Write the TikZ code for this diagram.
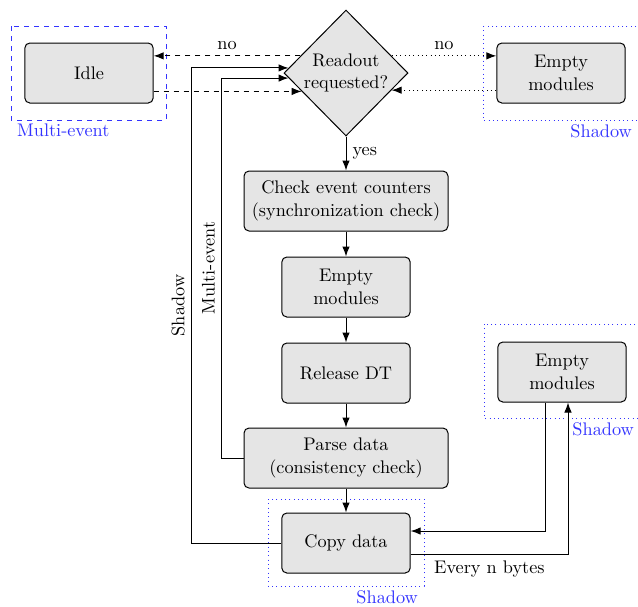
\documentclass[11pt,tikz,border=0pt]{standalone}
\usetikzlibrary{shapes.geometric,arrows.meta,calc}
\tikzset{
	stepbox/.style={draw, rounded corners=3pt, fill=gray!20, align=center, minimum height=36pt},
	narrowbox/.style={stepbox, minimum width=77pt},
	widebox/.style={stepbox, minimum width=122.4pt},
	decision/.style={draw, diamond, aspect=1, fill=gray!20, align=center, inner sep=0pt, minimum width=74.4pt, minimum height=75.6pt},
	groupname/.style={text=blue!80, inner sep=2.2pt},
	multiframe/.style={draw=blue!80, dashed},
	shadowframe/.style={draw=blue!80, dotted},
}
\begin{document}
\begin{tikzpicture}[x=0.6pt, y=-0.6pt, >={Latex[length=6pt,width=4.5pt]}, semithick]
	\useasboundingbox (0,0) rectangle (638,606);
	% steps
	\node[narrowbox] (idle) at (89,73) {Idle};
	\node[decision] (ask) at (346,73) {Readout\\requested?};
	\node[narrowbox] (emptytop) at (561,73) {Empty\\modules};
	\node[widebox] (counters) at (346,201) {Check event counters\\(synchronization check)};
	\node[narrowbox] (emptymid) at (346,287) {Empty\\modules};
	\node[narrowbox] (release) at (346,373) {Release DT};
	\node[widebox] (parse) at (346,458) {Parse data\\(consistency check)};
	\node[narrowbox] (copy) at (346,543) {Copy data};
	\node[narrowbox] (emptyside) at (562,372) {Empty\\modules};
	% frames
	\draw[multiframe] (11,26) rectangle (166,120);
	\node[groupname, anchor=north west] (multiname) at (13,120) {Multi-event};
	\draw[shadowframe] (483,26) rectangle (641,120);
	\node[groupname, anchor=north east] (shadowtopname) at (636,120) {Shadow};
	\draw[shadowframe] (484,324) rectangle (641,418);
	\node[groupname, anchor=north east] (shadowsidename) at (638,418) {Shadow};
	\draw[shadowframe] (268,499) rectangle (424,586);
	\node[groupname, anchor=north east] (shadowcopyname) at (422,586) {Shadow};
	% points on the diamond
	\coordinate (askNW) at ($(ask.west)!0.27!(ask.north)$);
	\coordinate (askSW) at ($(ask.west)!0.29!(ask.south)$);
	\coordinate (askNE) at ($(ask.east)!0.27!(ask.north)$);
	\coordinate (askSE) at ($(ask.east)!0.27!(ask.south)$);
	\coordinate (askL1) at ($(ask.west)!0.08!(ask.north)$);
	\coordinate (askL2) at ($(ask.west)!0.08!(ask.south)$);
	% connectors
	\draw[->, dashed] (askNW) -- (askNW -| idle.east) node[midway, above] {no};
	\draw[->, dashed] (idle.east |- askSW) -- (askSW);
	\draw[->, dotted] (askNE) -- (askNE -| emptytop.west) node[midway, above] {no};
	\draw[->, dotted] (emptytop.west |- askSE) -- (askSE);
	\draw[->] (ask.south) -- (counters.north) node[midway, right] {yes};
	\draw[->] (counters) -- (emptymid);
	\draw[->] (emptymid) -- (release);
	\draw[->] (release) -- (parse);
	\draw[->] (parse) -- (copy);
	\draw[->] (copy.west) -- ++(-90,0) |- (askL1) node[pos=0.25, sloped, above] {Shadow};
	\draw[->] (parse.west) -- ++(-22,0) |- (askL2) node[pos=0.25, sloped, above] {Multi-event};
	\draw[->] ($(emptyside.south)+(-17,0)$) |- ($(copy.east)+(0,-12)$);
	\draw[->] ($(copy.east)+(0,11)$) -| ($(emptyside.south)+(6,0)$) node[pos=0.25, below] {Every n bytes};
\end{tikzpicture}
\end{document}
